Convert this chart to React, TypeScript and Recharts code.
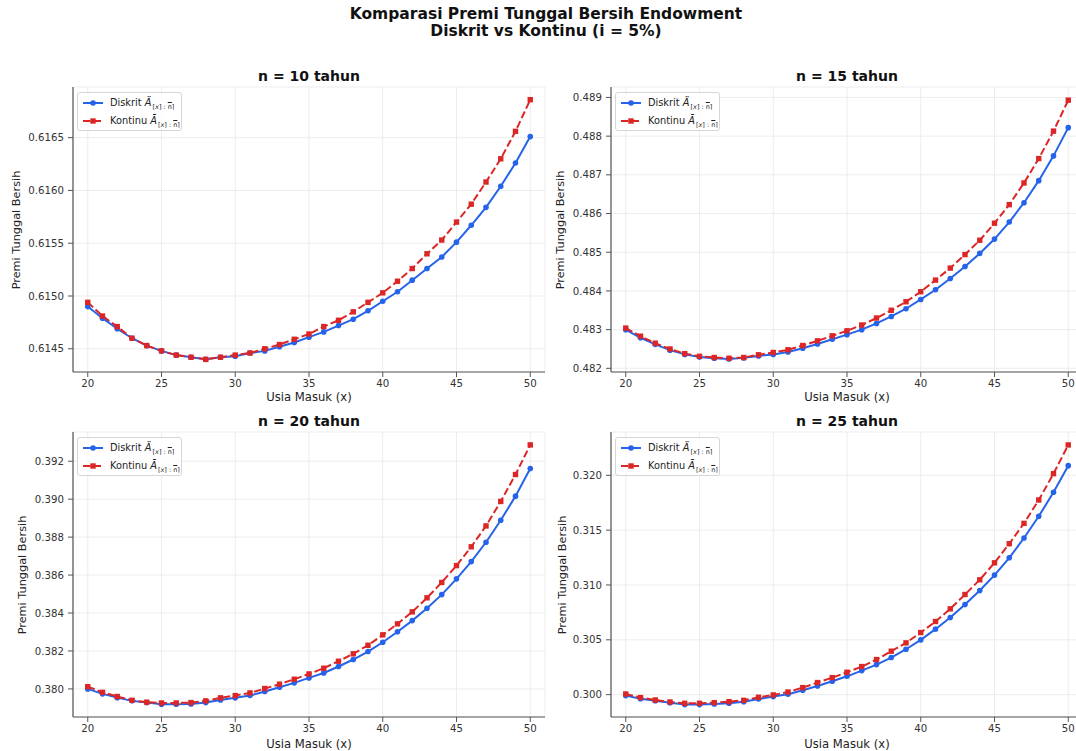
import React from "react";
import { LineChart, Line, XAxis, YAxis, CartesianGrid } from "recharts";

// Usia masuk (x)
const ages = [
  20, 21, 22, 23, 24, 25, 26, 27, 28, 29, 30, 31, 32, 33, 34, 35, 36, 37, 38, 39, 40,
  41, 42, 43, 44, 45, 46, 47, 48, 49, 50,
];

// n = 10 tahun
const diskrit10 = [
  0.6149, 0.61479, 0.61469, 0.6146, 0.61453, 0.61448, 0.61444, 0.61442, 0.6144, 0.61442,
  0.61443, 0.61446, 0.61448, 0.61452, 0.61456, 0.61461, 0.61466, 0.61472, 0.61478, 0.61486,
  0.61495, 0.61504, 0.61515, 0.61526, 0.61537, 0.61551, 0.61567, 0.61584, 0.61604, 0.61626,
  0.61651,
];
const kontinu10 = [
  0.61494, 0.61481, 0.61471, 0.6146, 0.61453, 0.61448, 0.61444, 0.61442, 0.6144, 0.61442,
  0.61444, 0.61446, 0.6145, 0.61454, 0.61459, 0.61464, 0.61471, 0.61477, 0.61485, 0.61494,
  0.61503, 0.61514, 0.61526, 0.6154, 0.61553, 0.6157, 0.61587, 0.61608, 0.6163, 0.61656,
  0.61686,
];

// n = 15 tahun
const diskrit15 = [
  0.483, 0.48279, 0.48262, 0.48247, 0.48236, 0.48229, 0.48226, 0.48224, 0.48227, 0.48232,
  0.48236, 0.48242, 0.48252, 0.48263, 0.48275, 0.48287, 0.483, 0.48316, 0.48334, 0.48354,
  0.48378, 0.48403, 0.48432, 0.48463, 0.48497, 0.48534, 0.48578, 0.48628, 0.48685, 0.48749,
  0.48822,
];
const kontinu15 = [
  0.48304, 0.48283, 0.48265, 0.4825, 0.48238, 0.48231, 0.48228, 0.48226, 0.48228, 0.48235,
  0.48241, 0.48248, 0.48259, 0.48271, 0.48284, 0.48297, 0.48312, 0.4833, 0.4835, 0.48372,
  0.48398, 0.48428, 0.48459, 0.48494, 0.48531, 0.48575, 0.48623, 0.48679, 0.48742, 0.48813,
  0.48893,
];

// n = 20 tahun
const diskrit20 = [
  0.38, 0.37974, 0.37954, 0.37937, 0.37928, 0.37919, 0.37919, 0.37921, 0.37928, 0.37942,
  0.37953, 0.37965, 0.37986, 0.38009, 0.38032, 0.38058, 0.38084, 0.38118, 0.38155, 0.38197,
  0.38246, 0.38301, 0.3836, 0.38425, 0.38497, 0.3858, 0.38671, 0.38773, 0.38889, 0.39016,
  0.39162,
];
const kontinu20 = [
  0.38012, 0.37982, 0.3796, 0.3794, 0.3793, 0.37926, 0.37926, 0.37928, 0.37937, 0.37953,
  0.37965, 0.37979, 0.38002, 0.38025, 0.38051, 0.38079, 0.38109, 0.38146, 0.38185, 0.3823,
  0.38285, 0.38343, 0.38406, 0.3848, 0.38561, 0.3865, 0.38749, 0.38859, 0.38988, 0.3913,
  0.39286,
];

// n = 25 tahun
const diskrit25 = [
  0.29991, 0.29963, 0.29945, 0.29927, 0.29909, 0.29909, 0.29915, 0.29921, 0.29936, 0.2996,
  0.29982, 0.30003, 0.3004, 0.30079, 0.30122, 0.30167, 0.30219, 0.30274, 0.30338, 0.30414,
  0.30499, 0.30597, 0.30703, 0.30822, 0.3095, 0.3109, 0.31248, 0.31428, 0.31626, 0.31845,
  0.32088,
];
const kontinu25 = [
  0.30006, 0.29973, 0.29951, 0.29933, 0.29921, 0.29921, 0.29927, 0.29936, 0.29948, 0.29976,
  0.29997, 0.30024, 0.30064, 0.3011, 0.30155, 0.30204, 0.30256, 0.3032, 0.30396, 0.30472,
  0.30566, 0.30667, 0.30782, 0.30913, 0.31047, 0.31202, 0.31376, 0.31562, 0.31775, 0.32015,
  0.32277,
];

const xTicks = [20, 25, 30, 35, 40, 45, 50];
const yTicks10 = [0.6145, 0.615, 0.6155, 0.616, 0.6165];
const yTicks15 = [0.482, 0.483, 0.484, 0.485, 0.486, 0.487, 0.488, 0.489];
const yTicks20 = [0.38, 0.382, 0.384, 0.386, 0.388, 0.39, 0.392];
const yTicks25 = [0.3, 0.305, 0.31, 0.315, 0.32];

const BLUE = "#2563eb";
const RED = "#dc2626";
const FONT = "'DejaVu Sans', sans-serif";

const W = 560;
const H = 350;
const M = { top: 27, right: 15, bottom: 0, left: 0 };
const Y_AXIS_W = 73;
const X_AXIS_H = 38;
const PLOT_L = M.left + Y_AXIS_W;
const PLOT_W = W - PLOT_L - M.right;
const PLOT_T = M.top;
const PLOT_H = H - M.top - M.bottom - X_AXIS_H;

const SquareDot = (props: any) => {
  const { cx, cy } = props;
  if (cx == null || cy == null) return null;
  return <rect x={cx - 2.7} y={cy - 2.7} width={5.4} height={5.4} fill={RED} />;
};

const Sub = () => (
  <span style={{ fontSize: 6.5, position: "relative", top: 3, marginLeft: 1 }}>
    [<i>x</i>] : <span style={{ textDecoration: "overline" }}>n</span>⌉
  </span>
);

function LegendBox() {
  const row = (top: number, color: string, dashed: boolean, square: boolean, label: string, glyph: string) => (
    <div style={{ position: "absolute", left: 0, top: top - 7, height: 14, width: "100%" }}>
      <svg width={26} height={14} style={{ position: "absolute", left: 0, top: 0 }}>
        <line
          x1={5}
          x2={25}
          y1={7}
          y2={7}
          stroke={color}
          strokeWidth={2}
          strokeDasharray={dashed ? "7.4 3.2" : undefined}
        />
        {square ? (
          <rect x={12.3} y={4.3} width={5.4} height={5.4} fill={color} />
        ) : (
          <circle cx={15} cy={7} r={2.8} fill={color} />
        )}
      </svg>
      <div style={{ position: "absolute", left: 32, top: 0, lineHeight: "14px", whiteSpace: "nowrap" }}>
        {label} <i>{glyph}</i>
        <Sub />
      </div>
    </div>
  );
  return (
    <div
      style={{
        position: "absolute",
        left: PLOT_L + 4,
        top: PLOT_T + 5,
        width: 105,
        height: 39,
        border: "1px solid #d6d6d6",
        borderRadius: 3,
        background: "rgba(255,255,255,0.8)",
        boxSizing: "border-box",
        fontSize: 9.8,
        color: "#222",
        fontFamily: FONT,
      }}
    >
      {row(10, BLUE, false, false, "Diskrit", "Ä")}
      {row(28, RED, true, true, "Kontinu", "Ā")}
    </div>
  );
}

type PanelProps = {
  left: number;
  top: number;
  title: string;
  diskrit: number[];
  kontinu: number[];
  domain: [number, number];
  yTicks: number[];
  decimals: number;
  yLabelX: number;
  xLabelDy: number;
};

function Panel({ left, top, title, diskrit, kontinu, domain, yTicks, decimals, yLabelX, xLabelDy }: PanelProps) {
  const rows = ages.map((age, i) => ({ age, diskrit: diskrit[i], kontinu: kontinu[i] }));
  const tickStyle = { fill: "#333", fontSize: 10.2, fontFamily: FONT };
  return (
    <div style={{ position: "absolute", left, top, width: W, height: H }}>
      <div
        style={{
          position: "absolute",
          left: PLOT_L,
          width: PLOT_W,
          top: PLOT_T - 19,
          lineHeight: "16px",
          textAlign: "center",
          fontWeight: "bold",
          fontSize: 14,
          fontFamily: FONT,
          color: "#111",
        }}
      >
        {title}
      </div>
      <LineChart width={W} height={H} data={rows} margin={M}>
        <CartesianGrid stroke="#e8e8e8" strokeWidth={0.8} />
        <XAxis
          dataKey="age"
          type="number"
          domain={[19, 51]}
          ticks={xTicks}
          allowDataOverflow
          height={X_AXIS_H}
          tick={tickStyle}
          tickSize={5}
          tickMargin={3}
          axisLine={{ stroke: "#555", strokeWidth: 1.2 }}
          tickLine={{ stroke: "#555" }}
        />
        <YAxis
          type="number"
          domain={domain}
          ticks={yTicks}
          allowDataOverflow
          width={Y_AXIS_W}
          tick={tickStyle}
          tickSize={5}
          tickMargin={4}
          tickFormatter={(v: number) => v.toFixed(decimals)}
          axisLine={{ stroke: "#555", strokeWidth: 1.2 }}
          tickLine={{ stroke: "#555" }}
        />
        <Line
          dataKey="diskrit"
          stroke={BLUE}
          strokeWidth={2}
          dot={{ r: 2.8, fill: BLUE, stroke: BLUE, strokeWidth: 0 }}
          isAnimationActive={false}
        />
        <Line
          dataKey="kontinu"
          stroke={RED}
          strokeWidth={2}
          strokeDasharray="7.4 3.2"
          dot={<SquareDot />}
          isAnimationActive={false}
        />
      </LineChart>
      <LegendBox />
      <div
        style={{
          position: "absolute",
          left: yLabelX,
          top: PLOT_T + PLOT_H / 2,
          transform: "translate(-50%, -50%) rotate(-90deg)",
          whiteSpace: "nowrap",
          fontSize: 11.3,
          fontFamily: FONT,
          color: "#222",
        }}
      >
        Premi Tunggal Bersih
      </div>
      <div
        style={{
          position: "absolute",
          left: PLOT_L,
          width: PLOT_W,
          top: PLOT_T + PLOT_H + xLabelDy - 7,
          lineHeight: "14px",
          textAlign: "center",
          fontSize: 11.6,
          fontFamily: FONT,
          color: "#222",
        }}
      >
        Usia Masuk (x)
      </div>
    </div>
  );
}

export default function App() {
  return (
    <div
      style={{
        position: "fixed",
        left: 0,
        top: 0,
        width: 1076,
        height: 751,
        overflow: "hidden",
        background: "#fff",
      }}
    >
      <div
        style={{
          position: "absolute",
          left: 0,
          width: 1092,
          top: 6,
          lineHeight: "17px",
          textAlign: "center",
          fontWeight: "bold",
          fontSize: 15.5,
          fontFamily: FONT,
          color: "#111",
        }}
      >
        Komparasi Premi Tunggal Bersih Endowment
        <br />
        Diskrit vs Kontinu (i = 5%)
      </div>
      <Panel
        left={0}
        top={60}
        title="n = 10 tahun"
        diskrit={diskrit10}
        kontinu={kontinu10}
        domain={[0.61428, 0.61698]}
        yTicks={yTicks10}
        decimals={4}
        yLabelX={16}
        xLabelDy={25}
      />
      <Panel
        left={538}
        top={60}
        title="n = 15 tahun"
        diskrit={diskrit15}
        kontinu={kontinu15}
        domain={[0.481905, 0.48927]}
        yTicks={yTicks15}
        decimals={3}
        yLabelX={22}
        xLabelDy={25}
      />
      <Panel
        left={0}
        top={405}
        title="n = 20 tahun"
        diskrit={diskrit20}
        kontinu={kontinu20}
        domain={[0.37852, 0.39354]}
        yTicks={yTicks20}
        decimals={3}
        yLabelX={22}
        xLabelDy={27}
      />
      <Panel
        left={538}
        top={405}
        title="n = 25 tahun"
        diskrit={diskrit25}
        kontinu={kontinu25}
        domain={[0.29796, 0.32395]}
        yTicks={yTicks25}
        decimals={3}
        yLabelX={24}
        xLabelDy={27}
      />
    </div>
  );
}
